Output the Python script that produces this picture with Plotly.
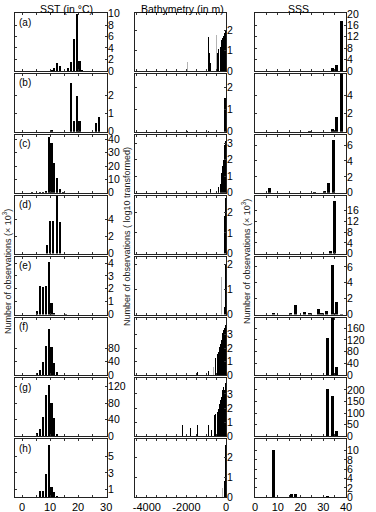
import plotly.graph_objects as go

# ---------------- data ----------------
panel_labels = ["(a)", "(b)", "(c)", "(d)", "(e)", "(f)", "(g)", "(h)"]
col_titles = ["SST (in °C)", "Bathymetry (in m)", "SSS"]
ytitle_sst = "Number of observations (× 10<sup>3</sup>)"
ytitle_bathy = "Number of observations ( log10 transformed)"
ytitle_sss = "Number of observations (× 10<sup>3</sup>)"

# SST histograms (bin centre in °C, count x 10^3)
sst_a_bin = [10.5, 11.5, 12.5, 13.5, 16.5, 17.5, 18.5, 19.5, 20.5, 21.5]
sst_a_n = [0.2, 0.5, 1.3, 0.8, 0.5, 1.5, 5.5, 10.0, 1.8, 0.1]
sst_b_bin = [10.5, 17.5, 18.5, 19.5, 20.5, 26.5, 27.5]
sst_b_n = [0.1, 2.7, 0.6, 2.0, 0.6, 0.5, 0.8]
sst_c_bin = [3.5, 6.5, 7.5, 8.5, 9.5, 10.5, 11.5, 12.5, 13.5, 14.5]
sst_c_n = [0.3, 0.3, 0.6, 1.5, 42, 37, 22, 11, 3, 0.5]
sst_d_bin = [8.8, 10.1, 11.1, 12.6, 13.6]
sst_d_n = [1.0, 3.8, 3.8, 7.0, 3.6]
sst_e_bin = [5.5, 6.5, 7.5, 8.5, 9.5, 10.5, 11.5, 15.5]
sst_e_n = [0.3, 2.2, 2.1, 2.2, 4.1, 0.9, 0.1, 0.05]
sst_f_bin = [5.5, 6.5, 7.5, 8.5, 9.5, 10.5, 11.5, 12.5, 13.5]
sst_f_n = [8, 15, 39, 85, 136, 84, 35, 10, 2]
sst_g_bin = [5.5, 6.5, 7.5, 8.5, 9.5, 10.5, 11.5, 12.5]
sst_g_n = [8, 17, 47, 100, 123, 81, 44, 5]
sst_h_bin = [6.5, 7.5, 8.5, 9.5, 10.5, 11.5, 12.5]
sst_h_n = [0.8, 0.8, 2.9, 6.5, 1.2, 0.6, 0.1]

# Bathymetry histograms (depth in m, log10 count), black and grey bars
bat_a_x = [-900, -820, -780, -610, -560, -420, -380, -260, -220, -180, -140, -100, -60, -20]
bat_a_y = [1.65, 0.9, 0.4, 1.3, 0.5, 0.9, 1.1, 1.2, 1.5, 1.6, 1.7, 1.9, 1.85, 1.95]
bat_a_gx = [-1950, -470, -300]
bat_a_gy = [0.45, 1.75, 1.85]
bat_b_x = [-1950, -900, -350, -100, -60, -20]
bat_b_y = [0.05, 0.05, 0.6, 1.4, 1.5, 1.5]
bat_b_gx = [-2830, -200]
bat_b_gy = [1.05, 0.5]
bat_c_x = [-780, -610, -390, -260, -220, -180, -140, -100, -60, -20]
bat_c_y = [0.2, 1.6, 0.35, 0.5, 1.2, 1.6, 2.0, 2.5, 2.9, 3.1]
bat_c_gx = [-300]
bat_c_gy = [0.2]
bat_d_x = [-60, -20]
bat_d_y = [1.8, 2.7]
bat_d_gx = [-250]
bat_d_gy = [0.2]
bat_e_x = [-60, -20]
bat_e_y = [0.3, 1.95]
bat_e_gx = [-220]
bat_e_gy = [1.5]
bat_f_x = [-1820, -1450, -890, -810, -610, -520, -440, -400, -360, -320, -280, -240, -200, -160, -120, -80, -40, -10]
bat_f_y = [0.65, 0.25, 0.3, 0.5, 1.1, 1.3, 1.6, 1.9, 1.7, 2.1, 2.3, 2.6, 2.9, 3.1, 3.3, 3.5, 3.7, 3.6]
bat_f_gx = [-1620, -1010, -650, -300]
bat_f_gy = [0.25, 0.3, 0.6, 1.5]
bat_g_x = [-2190, -1790, -1450, -895, -810, -740, -600, -520, -440, -400, -360, -320, -280, -240, -200, -160, -120, -80, -40, -10]
bat_g_y = [0.77, 0.6, 0.8, 0.8, 0.5, 0.45, 1.5, 1.6, 1.7, 2.0, 1.9, 2.3, 2.6, 2.8, 3.0, 3.3, 3.5, 3.3, 3.8, 3.7]
bat_g_gx = [-1620, -1010, -560]
bat_g_gy = [0.7, 0.3, 1.4]
bat_h_x = [-90, -15]
bat_h_y = [0.8, 2.6]
bat_h_gx = [-190]
bat_h_gy = [0.45]

# SSS histograms (salinity bin centre, count x 10^3)
sss_a_bin = [34, 36, 38]
sss_a_n = [1.0, 2.0, 17.5]
sss_b_bin = [24, 34, 36, 38]
sss_b_n = [0.05, 0.35, 1.6, 7.0]
sss_c_bin = [6.5, 26, 30.5, 32.5, 34.5]
sss_c_n = [0.65, 0.1, 0.2, 1.2, 6.6]
sss_d_bin = [33, 35]
sss_d_n = [0.8, 19.5]
sss_e_bin = [8, 15.5, 17.7, 21.8, 24, 27.7, 29.3, 31.6, 34, 36, 38]
sss_e_n = [0.2, 0.2, 1.14, 0.35, 0.2, 0.75, 0.2, 0.45, 6.2, 1.55, 0.02]
sss_f_bin = [32, 34, 36]
sss_f_n = [126, 210, 30]
sss_g_bin = [32, 34, 36]
sss_g_n = [205, 172, 25]
sss_h_bin = [8, 16, 18, 28, 32, 34]
sss_h_n = [10.2, 0.7, 0.6, 0.1, 0.15, 0.05]

# axis extents and tick labels
sst_ymax = [10.1, 3.2, 43.5, 6.7, 4.5, 170, 140, 7.15]
sst_yticks = [[0, 2, 4, 6, 8, 10], [0, 1, 2], [0, 10, 20, 30, 40], [0, 2, 4], [0, 1, 2, 3, 4],
              [0, 40, 80], [0, 40, 80, 120], [1, 3, 5]]
bat_ymax = [2.85, 2.6, 3.5, 2.8, 2.3, 4.25, 4.1, 2.9]
bat_yticks = [[0, 1, 2], [0, 1, 2], [0, 1, 2, 3], [0, 1, 2], [0, 1, 2], [0, 1, 2, 3], [0, 1, 2, 3], [0, 1, 2]]
sss_ymax = [20.3, 6.3, 7.3, 21.5, 7.3, 196, 250, 12.4]
sss_yticks = [[0, 4, 8, 12, 16, 20], [0, 2, 4], [0, 2, 4, 6], [0, 4, 8, 12, 16], [0, 2, 4, 6],
              [0, 40, 80, 120, 160], [0, 50, 100, 150, 200], [0, 2, 4, 6, 8, 10]]
sst_xticks = [0, 10, 20, 30]
bat_xticks = [-4000, -2000, 0]
sss_xticks = [0, 10, 20, 30, 40]

# ---------------- figure ----------------
W, H = 376, 512
FONT = "Liberation Sans, Arial, sans-serif"
COLX = [(15, 107), (135, 226), (255, 346)]
TITLE_CX = [66, 182, 298]
TOP0, PH, GAP = 13.0, 57.9, 3.0
XR = [[-2.5, 30.3], [-4600, 0], [0, 40]]
XMINOR = [5, 500, 5]

sst = [(sst_a_bin, sst_a_n), (sst_b_bin, sst_b_n), (sst_c_bin, sst_c_n), (sst_d_bin, sst_d_n),
       (sst_e_bin, sst_e_n), (sst_f_bin, sst_f_n), (sst_g_bin, sst_g_n), (sst_h_bin, sst_h_n)]
bat = [(bat_a_x, bat_a_y, bat_a_gx, bat_a_gy), (bat_b_x, bat_b_y, bat_b_gx, bat_b_gy),
       (bat_c_x, bat_c_y, bat_c_gx, bat_c_gy), (bat_d_x, bat_d_y, bat_d_gx, bat_d_gy),
       (bat_e_x, bat_e_y, bat_e_gx, bat_e_gy), (bat_f_x, bat_f_y, bat_f_gx, bat_f_gy),
       (bat_g_x, bat_g_y, bat_g_gx, bat_g_gy), (bat_h_x, bat_h_y, bat_h_gx, bat_h_gy)]
sss = [(sss_a_bin, sss_a_n), (sss_b_bin, sss_b_n), (sss_c_bin, sss_c_n), (sss_d_bin, sss_d_n),
       (sss_e_bin, sss_e_n), (sss_f_bin, sss_f_n), (sss_g_bin, sss_g_n), (sss_h_bin, sss_h_n)]

fig = go.Figure()
layout = {}
annotations = []

def ax_name(n, kind):
    return kind if n == 1 else f"{kind}{n}"

def fmt(v):
    return str(v).replace("−", "-")

for r in range(8):
    top = TOP0 + r * (PH + GAP)
    bot = top + PH
    ydom = [1 - bot / H, 1 - top / H]
    for c in range(3):
        n = r * 3 + c + 1
        xa, ya = ax_name(n, "x"), ax_name(n, "y")
        if c == 0:
            fig.add_trace(go.Bar(x=sst[r][0], y=sst[r][1], width=0.75, marker_color="black",
                                 marker_line_width=0, xaxis=xa, yaxis=ya, showlegend=False))
            ymax, yt, xt = sst_ymax[r], sst_yticks[r], sst_xticks
        elif c == 1:
            bx, by, gx, gy = bat[r]
            fig.add_trace(go.Bar(x=gx, y=gy, width=40, marker_color="#b4b4b4",
                                 marker_line_width=0, xaxis=xa, yaxis=ya, showlegend=False))
            fig.add_trace(go.Bar(x=bx, y=by, width=40, marker_color="black",
                                 marker_line_width=0, xaxis=xa, yaxis=ya, showlegend=False))
            ymax, yt, xt = bat_ymax[r], bat_yticks[r], bat_xticks
        else:
            fig.add_trace(go.Bar(x=sss[r][0], y=sss[r][1], width=1.3, marker_color="black",
                                 marker_line_width=0, xaxis=xa, yaxis=ya, showlegend=False))
            ymax, yt, xt = sss_ymax[r], sss_yticks[r], sss_xticks
        x0, x1 = COLX[c]
        lo, hi = XR[c]
        step = XMINOR[c]
        k0 = int(-(-lo // step))
        tv = [k * step for k in range(k0, int(hi // step) + 1) if k * step not in xt]
        layout[ax_name(n, "xaxis")] = dict(
            domain=[x0 / W, x1 / W], anchor=ya, range=[lo, hi],
            tickvals=xt, ticktext=[fmt(v) for v in xt], showticklabels=(r == 7),
            tickangle=0, automargin=False,
            ticks="inside", ticklen=2, tickcolor="#333", mirror="ticks",
            minor=dict(tickvals=tv, ticks="inside", ticklen=2, tickcolor="#333", showgrid=False),
            showline=True, linecolor="#222", linewidth=1, showgrid=False, zeroline=False,
            tickfont=dict(size=11, color="black", family=FONT), fixedrange=True)
        layout[ax_name(n, "yaxis")] = dict(
            domain=ydom, anchor=xa, range=[0, ymax], side="right", automargin=False,
            tickvals=yt, ticktext=[fmt(v) for v in yt], ticklabelstandoff=-2,
            ticks="inside", ticklen=2, tickcolor="#333", mirror="ticks",
            showline=True, linecolor="#222", linewidth=1, showgrid=False, zeroline=False,
            tickfont=dict(size=10.5, color="black", family=FONT), fixedrange=True)
    annotations.append(dict(text=panel_labels[r], x=17 / W, y=1 - (top + 9) / H, xref="paper", yref="paper",
                            xanchor="left", yanchor="middle", showarrow=False,
                            font=dict(size=10, color="black", family=FONT)))

for c in range(3):
    annotations.append(dict(text=col_titles[c], x=TITLE_CX[c] / W, y=1 - 9 / H, xref="paper", yref="paper",
                            xanchor="center", yanchor="middle", showarrow=False,
                            font=dict(size=10.5, color="black", family=FONT)))

for txt, px, py in [(ytitle_sst, 7, 272), (ytitle_bathy, 127, 236), (ytitle_sss, 246, 262)]:
    annotations.append(dict(text=txt, x=px / W, y=1 - py / H, xref="paper", yref="paper",
                            xanchor="center", yanchor="middle", textangle=-90, showarrow=False,
                            font=dict(size=9, color="#222", family=FONT)))

fig.update_layout(width=W, height=H, margin=dict(l=0, r=0, t=0, b=0),
                  paper_bgcolor="white", plot_bgcolor="white", bargap=0,
                  annotations=annotations, **layout)

fig.write_html("out.html", config={"displayModeBar": False, "staticPlot": True},
               post_script="document.body.style.margin='0';document.body.style.overflow='hidden';")
